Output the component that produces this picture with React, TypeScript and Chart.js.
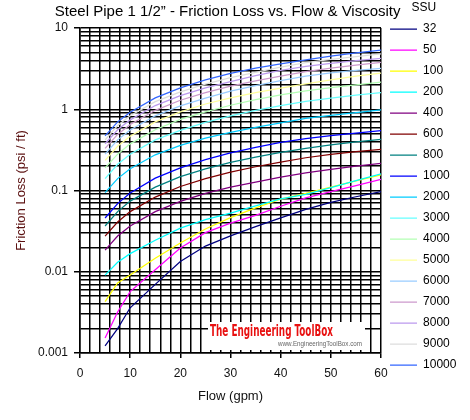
import { useEffect, useRef } from "react";
import { Chart, registerables } from "chart.js";

Chart.register(...registerables);

// Flow (gpm)
const flows = [5, 7.5, 10, 15, 20, 25, 30, 35, 40, 45, 50, 55, 60];

// Friction loss (psi / ft) per viscosity (SSU)
const ssu32 = [0.00122, 0.002, 0.0036, 0.007, 0.0134, 0.0207, 0.0277, 0.0359, 0.0461, 0.0587, 0.0713, 0.0838, 0.0966];
const ssu50 = [0.00153, 0.0032, 0.0057, 0.0106, 0.0196, 0.0303, 0.0396, 0.0495, 0.064, 0.0813, 0.0968, 0.115, 0.137];
const ssu100 = [0.00428, 0.0073, 0.0091, 0.0147, 0.0226, 0.0336, 0.0464, 0.0611, 0.0783, 0.092, 0.11, 0.131, 0.156];
const ssu200 = [0.0091, 0.0131, 0.0167, 0.0244, 0.0344, 0.0439, 0.0528, 0.0647, 0.0789, 0.0895, 0.1086, 0.132, 0.16];
const ssu400 = [0.0185, 0.0275, 0.0365, 0.055, 0.0735, 0.092, 0.11, 0.127, 0.146, 0.165, 0.182, 0.199, 0.216];
const ssu600 = [0.0275, 0.041, 0.055, 0.083, 0.112, 0.14, 0.168, 0.196, 0.224, 0.253, 0.278, 0.3, 0.32];
const ssu800 = [0.0366, 0.055, 0.074, 0.11, 0.148, 0.185, 0.222, 0.258, 0.294, 0.33, 0.364, 0.396, 0.427];
const ssu1000 = [0.0459, 0.069, 0.093, 0.142, 0.19, 0.24, 0.29, 0.34, 0.39, 0.435, 0.475, 0.51, 0.545];
const ssu2000 = [0.094, 0.14, 0.185, 0.275, 0.36, 0.44, 0.52, 0.6, 0.68, 0.77, 0.84, 0.91, 0.98];
const ssu3000 = [0.14, 0.21, 0.28, 0.42, 0.55, 0.69, 0.83, 0.97, 1.11, 1.25, 1.37, 1.49, 1.6];
const ssu4000 = [0.19, 0.28, 0.375, 0.56, 0.75, 0.93, 1.12, 1.31, 1.5, 1.68, 1.84, 2.0, 2.15];
const ssu5000 = [0.235, 0.35, 0.465, 0.7, 0.93, 1.16, 1.38, 1.6, 1.82, 2.05, 2.3, 2.55, 2.78];
const ssu6000 = [0.28, 0.42, 0.555, 0.83, 1.1, 1.37, 1.67, 1.95, 2.25, 2.55, 2.8, 3.0, 3.19];
const ssu7000 = [0.33, 0.49, 0.65, 0.97, 1.29, 1.6, 1.92, 2.23, 2.55, 2.9, 3.2, 3.5, 3.78];
const ssu8000 = [0.376, 0.56, 0.74, 1.11, 1.47, 1.83, 2.19, 2.6, 3.0, 3.38, 3.68, 3.97, 4.24];
const ssu9000 = [0.42, 0.63, 0.83, 1.24, 1.64, 2.04, 2.45, 2.85, 3.3, 3.75, 4.1, 4.45, 4.79];
const ssu10000 = [0.47, 0.7, 0.92, 1.38, 1.83, 2.3, 2.77, 3.2, 3.62, 4.06, 4.5, 4.93, 5.36];

const seriesNames = ["32", "50", "100", "200", "400", "600", "800", "1000", "2000", "3000", "4000", "5000", "6000", "7000", "8000", "9000", "10000"];

const xTickLabels = [0, 10, 20, 30, 40, 50, 60];
const yDecades = [0.001, 0.01, 0.1, 1, 10];
const yTickLabels = ["0.001", "0.01", "0.1", "1", "10"];

const seriesColors = [
  "#000080", "#FF00FF", "#FFFF00", "#00FFFF", "#800080", "#800000", "#008080", "#0000FF",
  "#00CCFF", "#66FFFF", "#B3FFB3", "#FFFF99", "#99CCFF", "#CC99CC", "#BB99EE", "#DDDDDD", "#3366FF",
];

const FONT = "'Liberation Sans', Arial, sans-serif";

const isDecade = (v: number) => yDecades.some((d) => Math.abs(v / d - 1) < 1e-9);

const watermark = {
  id: "watermark",
  beforeDatasetsDraw(chart: any) {
    const { ctx, chartArea } = chart;
    const { left, bottom } = chartArea;
    ctx.save();
    ctx.fillStyle = "#ffffff";
    ctx.fillRect(left + 128, bottom - 31, 157, 28);
    ctx.fillStyle = "#e81010";
    ctx.font = "bold 15px 'DejaVu Sans Condensed', 'Liberation Sans Narrow', sans-serif";
    ctx.textBaseline = "middle";
    ctx.textAlign = "left";
    ctx.fillText("The Engineering ToolBox", left + 130, bottom - 21, 123);
    ctx.fillStyle = "#666666";
    ctx.font = "8px " + FONT;
    ctx.fillText("www.EngineeringToolBox.com", left + 198, bottom - 9, 84);
    ctx.restore();
  },
};

export default function App() {
  const ref = useRef<HTMLCanvasElement>(null);

  useEffect(() => {
    const series = [ssu32, ssu50, ssu100, ssu200, ssu400, ssu600, ssu800, ssu1000, ssu2000, ssu3000, ssu4000, ssu5000, ssu6000, ssu7000, ssu8000, ssu9000, ssu10000];
    const datasets = series.map((vals, i) => ({
      label: seriesNames[i],
      data: flows.map((x, j) => ({ x, y: vals[j] })),
      borderColor: seriesColors[i],
      backgroundColor: seriesColors[i],
      borderWidth: 1.25,
      pointRadius: 0,
      pointHoverRadius: 0,
      pointStyle: "line",
      tension: 0,
      fill: false,
      order: -i,
    }));

    const yTicks: number[] = [];
    for (let e = -3; e <= 0; e++) {
      for (let m = 1; m <= 9; m++) yTicks.push(parseFloat((m * Math.pow(10, e)).toPrecision(6)));
    }
    yTicks.push(10);

    const chart = new Chart(ref.current as HTMLCanvasElement, {
      type: "line",
      data: { datasets } as any,
      options: {
        responsive: false,
        animation: false,
        devicePixelRatio: 1,
        layout: { padding: { left: -11, right: 3.6 } },
        font: { family: FONT },
        plugins: {
          tooltip: { enabled: false },
          title: {
            display: true,
            text: "Steel Pipe 1 1/2\u201D - Friction Loss vs. Flow & Viscosity",
            color: "#000",
            font: { family: FONT, size: 15, weight: "normal" },
            padding: { top: 3, bottom: 7 },
          },
          legend: {
            position: "right",
            align: "start",
            title: {
              display: true,
              text: "SSU",
              color: "#000",
              font: { family: FONT, size: 12, lineHeight: 1 },
              padding: { top: 2, bottom: 0 },
            },
            labels: {
              usePointStyle: true,
              pointStyle: "line",
              pointStyleWidth: 27,
              padding: 9,
              color: "#000",
              font: { family: FONT, size: 12 },
              sort: (a: any, b: any) => a.datasetIndex - b.datasetIndex,
            },
          },
        },
        scales: {
          x: {
            type: "linear",
            min: 0,
            max: 60,
            afterFit: (scale: any) => {
              scale.height = 67;
            },
            ticks: {
              stepSize: 2,
              autoSkip: false,
              maxRotation: 0,
              padding: 8,
              color: "#111",
              font: { family: FONT, size: 12 },
              callback: (v: any) => (xTickLabels.includes(Number(v)) ? String(v) : ""),
            },
            grid: {
              color: "#000",
              lineWidth: 1.5,
              tickLength: 5,
              tickColor: (ctx: any) => (ctx.tick && xTickLabels.includes(ctx.tick.value) ? "#000" : "rgba(0,0,0,0)"),
            },
            border: { color: "#000", width: 1.5 },
            title: {
              display: true,
              text: "Flow (gpm)",
              color: "#111",
              font: { family: FONT, size: 13 },
              padding: { top: 0, bottom: 16 },
            },
          },
          y: {
            type: "logarithmic",
            min: 0.001,
            max: 10,
            afterBuildTicks: (scale: any) => {
              scale.ticks = yTicks.map((value) => ({ value, major: isDecade(value) }));
            },
            afterFit: (scale: any) => {
              scale.width = 91;
            },
            ticks: {
              autoSkip: false,
              padding: 6,
              color: "#111",
              font: { family: FONT, size: 12 },
              callback: (v: any) => {
                const idx = yDecades.findIndex((d) => Math.abs(Number(v) / d - 1) < 1e-9);
                return idx >= 0 ? yTickLabels[idx] : "";
              },
            },
            grid: {
              color: "#000",
              lineWidth: 1.5,
              tickLength: 6,
              tickColor: (ctx: any) => (ctx.tick && isDecade(ctx.tick.value) ? "#000" : "rgba(0,0,0,0)"),
            },
            border: { color: "#000", width: 1.5 },
            title: {
              display: true,
              text: "Friction Loss (psi / ft)",
              color: "#5a1010",
              font: { family: FONT, size: 13 },
              padding: { top: 25, bottom: 0 },
            },
          },
        },
      } as any,
      plugins: [watermark],
    });
    return () => chart.destroy();
  }, []);

  return (
    <div style={{ position: "absolute", left: 0, top: 0, width: 470, height: 420, background: "#fff" }}>
      <canvas ref={ref} width={470} height={420} style={{ display: "block" }} />
    </div>
  );
}
